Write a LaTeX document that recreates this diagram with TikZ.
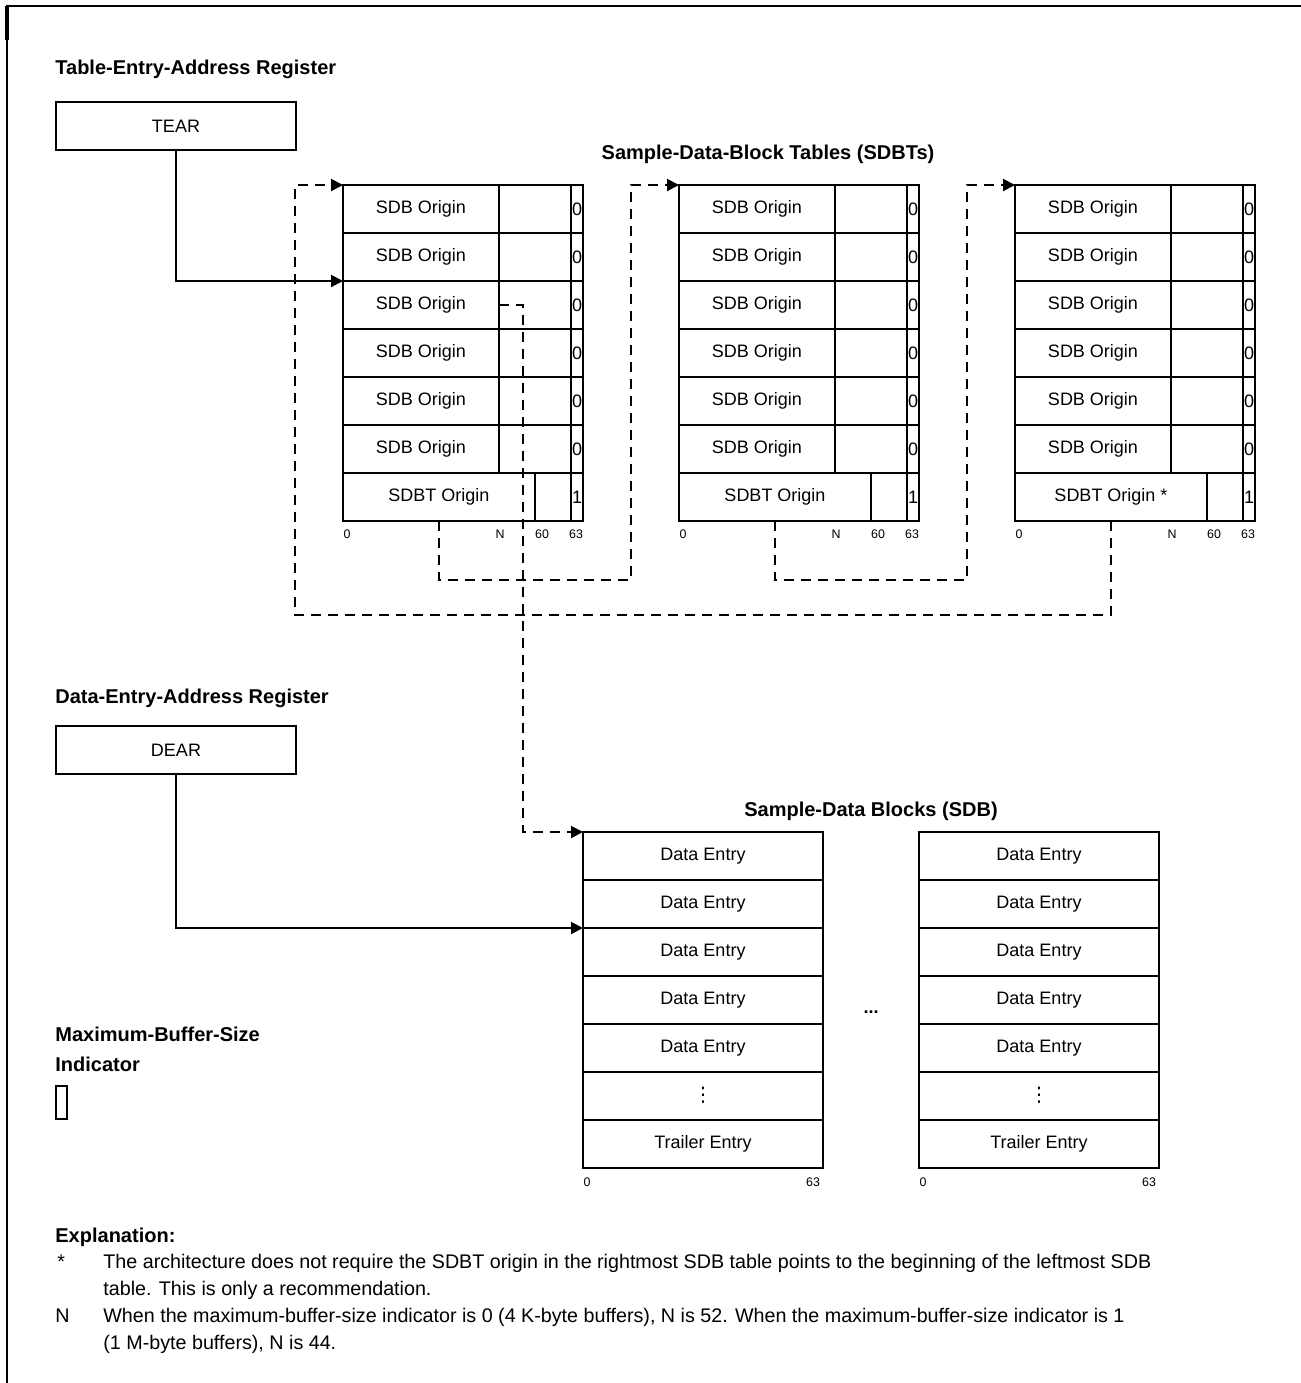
\documentclass[tikz,border=0pt]{standalone}
\usepackage{fontspec}
\setmainfont{Liberation Sans}
\newfontfamily\dotsfont{DejaVu Sans}
\usetikzlibrary{arrows.meta, calc}
\tikzset{cell/.style = {draw, line width=1pt}}
\tikzset{lbl/.style = {font=\fontsize{9}{10}\selectfont, inner sep=0pt}}
\tikzset{bitno/.style = {font=\fontsize{6.2}{7}\selectfont, inner sep=0pt}}
\tikzset{heading/.style = {font=\bfseries\fontsize{10}{12}\selectfont, inner sep=0pt, anchor=base west}}
\tikzset{note/.style = {font=\fontsize{9.85}{11}\selectfont, inner sep=0pt, anchor=base west}}
\tikzset{ptr/.style = {line width=1pt, -{Triangle[length=6pt, width=6pt]}}}
\tikzset{link/.style = {ptr, dash pattern=on 5pt off 3.5pt}}

\begin{document}
\begin{tikzpicture}[x=0.5pt, y=-0.5pt]
\useasboundingbox (0,0) rectangle (1301,1383);
\draw[line width=1pt] (1301,6) -- (7,6) -- (7,1383);
\draw[line width=1.6pt] (7,6) -- (7,40);

\node[heading] (tearhead) at (55,74) {Table-Entry-Address Register};
\node[cell, lbl, minimum width=120pt, minimum height=24pt, anchor=north west] (tear) at (55,101) {TEAR};
\node[heading, anchor=base] (sdbthead) at (768,159) {Sample-Data-Block Tables (SDBTs)};

\foreach \k/\x/\t in {1/343/SDBT Origin, 2/679/SDBT Origin, 3/1015/SDBT Origin *} {
  \coordinate (top\k) at (\x,185);
  \coordinate (ptr\k) at (\x+96,521);
  \draw[cell] (\x,185) rectangle (\x+240,521);
  \foreach \i in {1,...,6} {
    \draw[cell] (\x,{185+48*\i}) -- (\x+240,{185+48*\i});
    \node[lbl] (sdb\k\i) at (\x+78,{161+48*\i}) {SDB Origin};
    \node[lbl] (flag\k\i) at (\x+234,{161+48*\i}) {0};
  }
  \draw[cell] (\x+156,185) -- (\x+156,473);
  \draw[cell] (\x+192,473) -- (\x+192,521);
  \draw[cell] (\x+228,185) -- (\x+228,521);
  \node[lbl] (sdbt\k) at (\x+96,497) {\t};
  \node[lbl] (flag\k7) at (\x+234,497) {1};
  \node[bitno] (lo\k) at (\x+4,534) {0};
  \node[bitno] (n\k) at (\x+157,534) {N};
  \node[bitno] (sixty\k) at (\x+199,534) {60};
  \node[bitno] (hi\k) at (\x+233,534) {63};
}

\coordinate (tearhit) at (343,281);
\draw[ptr] (tear.south) |- (tearhit);

\draw[link] (ptr1) -- ++(0,59) -| ($(top2)+(-48,0)$) -- (top2);
\draw[link] (ptr2) -- ++(0,59) -| ($(top3)+(-48,0)$) -- (top3);
\draw[link] (ptr3) -- ++(0,94) -| ($(top1)+(-48,0)$) -- (top1);

\node[heading] (dearhead) at (55,703) {Data-Entry-Address Register};
\node[cell, lbl, minimum width=120pt, minimum height=24pt, anchor=north west] (dear) at (55,725) {DEAR};
\node[heading, anchor=base] (sdbhead) at (871,816) {Sample-Data Blocks (SDB)};

\foreach \b/\x in {1/583, 2/919} {
  \coordinate (blk\b) at (\x,832);
  \draw[cell] (\x,832) rectangle (\x+240,1168);
  \foreach \i in {1,...,6} {
    \draw[cell] (\x,{832+48*\i}) -- (\x+240,{832+48*\i});
  }
  \foreach \i in {1,...,5} {
    \node[lbl] (data\b\i) at (\x+120,{856+48*(\i-1)}) {Data Entry};
  }
  \node[lbl, font=\dotsfont\fontsize{10}{11}\selectfont] (more\b) at (\x+120,1095) {⋮};
  \node[lbl] (trail\b) at (\x+120,1144) {Trailer Entry};
  \node[bitno] (blo\b) at (\x+4,1182) {0};
  \node[bitno] (bhi\b) at (\x+230,1182) {63};
}
\node[font=\bfseries\fontsize{9}{10}\selectfont, inner sep=0pt] (gap) at (871,1012) {...};

\coordinate (src) at (499,305);
\draw[link] (src) -- ++(24,0) |- (blk1);
\coordinate (dearhit) at (583,928);
\draw[ptr] (dear.south) |- (dearhit);

\node[heading] (mbsihead) at (55,1041) {Maximum-Buffer-Size};
\node[heading] (mbsihead2) at (55,1071) {Indicator};
\node[draw, line width=0.8pt, inner sep=0pt, minimum width=5.5pt, minimum height=16.5pt, anchor=north west] (mbsi) at (55,1085) {};

\node[heading] (expl) at (55,1242) {Explanation:};
\node[note] (m1) at (57,1268) {*};
\node[note] (e1) at (103,1268) {The architecture does not require the SDBT origin in the rightmost SDB table points to the beginning of the leftmost SDB};
\node[note] (e2) at (103,1295) {table. This is only a recommendation.};
\node[note] (m2) at (55,1322) {N};
\node[note] (e3) at (103,1322) {When the maximum-buffer-size indicator is 0 (4 K-byte buffers), N is 52. When the maximum-buffer-size indicator is 1};
\node[note] (e4) at (103,1349) {(1 M-byte buffers), N is 44.};
\end{tikzpicture}
\end{document}
